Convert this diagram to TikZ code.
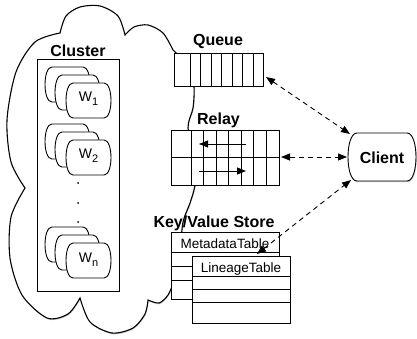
\documentclass[tikz,border=0pt]{standalone}
\usepackage{fontspec}
\setmainfont{Liberation Sans}
\usetikzlibrary{arrows.meta,shadows}

\tikzset{
  outline/.style={draw=black, line width=0.9pt},
  cell/.style={draw=black, line width=0.9pt, fill=white},
  cloudline/.style={draw=black, line width=1.1pt, fill=white},
  title/.style={font=\fontsize{16}{18}\selectfont\bfseries, inner sep=0pt, anchor=base},
  tabletext/.style={font=\fontsize{13.5}{15}\selectfont, inner sep=0pt, anchor=base},
  wlabel/.style={font=\fontsize{14}{16}\selectfont, inner sep=0pt, anchor=base},
  tip/.tip={Triangle[length=9pt,width=7pt]},
  link/.style={line width=0.9pt, dash pattern=on 5pt off 4pt, tip-tip},
  flow/.style={line width=0.9pt, -tip},
  softshadow/.style={drop shadow={shadow xshift=0.6pt, shadow yshift=-1.2pt, opacity=0.45}},
}

% one worker card: left/top corner at (#1,#2), 45 x 35, bulging sides
\newcommand\workercard[2]{%
  \filldraw[cell] ({#1+7},{#2}) -- ({#1+38},{#2})
    .. controls ({#1+47.33},{#2}) and ({#1+47.33},{#2+35}) .. ({#1+38},{#2+35})
    -- ({#1+7},{#2+35})
    .. controls ({#1-2.33},{#2+35}) and ({#1-2.33},{#2}) .. cycle;}

% a stack of three cards with a label on the front one
\newcommand\workerstack[4]{% x, y, node name, subscript
  \workercard{#1}{#2}
  \workercard{#1+10}{#2+8}
  \workercard{#1+21}{#2+16}
  \node[wlabel] (#3) at ({#1+43.5},{#2+35}) {W\raisebox{-4pt}{\fontsize{11}{12}\selectfont #4}};}

\begin{document}
\begin{tikzpicture}[x=1pt, y=-1pt]
\useasboundingbox (0,0) rectangle (417,339);

% cloud holding the whole system
\filldraw[cloudline, softshadow]
  plot[smooth] coordinates {(173,50) (163,33) (148,25) (134,27) (125,35)}
  -- plot[smooth] coordinates {(125,35) (118,16) (100,6) (80,7) (66,16) (60,33)}
  -- plot[smooth] coordinates {(60,33) (35,42) (16,72) (7,120) (11,162) (25,188)}
  -- plot[smooth] coordinates {(25,188) (11,217) (10,258) (22,295) (47,318) (68,314) (80,298)}
  -- plot[smooth] coordinates {(80,298) (90,322) (112,333) (133,328) (145,314) (148,300)}
  -- plot[smooth] coordinates {(148,300) (159,303) (168,295) (174,280) (180,250) (183,222) (190,203) (195,185) (196,160) (188,128) (193,108) (194,87) (190,68) (173,50)}
  -- cycle;

% cluster of workers
\node[title] (clusterlabel) at (78,57) {Cluster};
\draw[outline] (37,59) rectangle (119,291);
\workerstack{45}{67}{w1}{1}
\workerstack{45}{124}{w2}{2}
\workerstack{45}{227}{wn}{n}
\foreach \y in {183,203,222} \fill (78,\y) circle (1pt);

% queue
\node[title] (queuelabel) at (218,46) {Queue};
\filldraw[cell] (174,53) rectangle (263,86);
\foreach \x in {190,200.5,211,221.5,232,242.5,253} \draw[outline] (\x,53) -- (\x,86);

% relay
\node[title] (relaylabel) at (218.5,125) {Relay};
\filldraw[cell] (171,130) rectangle (279,185);
\draw[outline] (171,157) -- (279,157);
\foreach \x in {191,203.5,216,228.5,241,253.5,266} \draw[outline] (\x,130) -- (\x,185);
\coordinate (rtopR) at (246,144);
\coordinate (rtopL) at (199,144);
\coordinate (rbotL) at (199,171);
\coordinate (rbotR) at (246,171);
\draw[flow] (rtopR) -- (rtopL);
\draw[flow] (rbotL) -- (rbotR);

% key/value store
\node[title] (kvlabel) at (214,227) {Key/Value Store};
\filldraw[cell] (171,232) rectangle (279,299);
\foreach \y in {252,266,280} \draw[outline] (171,\y) -- (279,\y);
\node[tabletext] (meta) at (225,248) {MetadataTable};
\filldraw[cell] (192,256) rectangle (290,323);
\foreach \y in {276,289,302} \draw[outline] (192,\y) -- (290,\y);
\node[tabletext] (lineage) at (241,272) {LineageTable};

% client
\filldraw[cell, softshadow] (357,133) -- (407,133)
  .. controls (419,133) and (419,181) .. (407,181)
  -- (357,181)
  .. controls (345,181) and (345,133) .. cycle;
\node[title] (client) at (382,164) {Client};

% links between client and the services
\coordinate (qport) at (266,77);
\coordinate (cq) at (350,134);
\coordinate (rport) at (281,157);
\coordinate (cr) at (347,157);
\coordinate (kport) at (257,254);
\coordinate (ck) at (351,180);
\draw[link] (qport) -- (cq);
\draw[link] (rport) -- (cr);
\draw[link] (kport) -- (ck);
\end{tikzpicture}
\end{document}
